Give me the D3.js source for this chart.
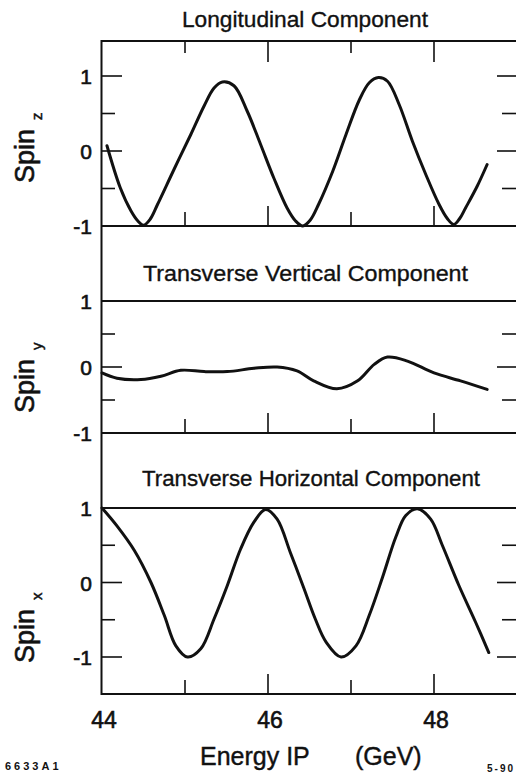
<!DOCTYPE html>
<html>
<head>
<meta charset="utf-8">
<script src="https://cdn.jsdelivr.net/npm/d3@7"></script>
<style>
  html, body { margin: 0; padding: 0; background: #fff; }
  svg { display: block; }
  text { font-family: "Liberation Sans", Arial, Helvetica, sans-serif; fill: #111; }
</style>
</head>
<body>
<svg id="chart" width="516" height="780"></svg>
<script>
// ---- Data ----
const energyTicks = [44, 45, 46, 47, 48];
const energyLabels = [44, 46, 48];
const spinTicks = [-1, -0.5, 0, 0.5, 1];
const spinLabels = [-1, 0, 1];

const titles = ["Longitudinal Component", "Transverse Vertical Component", "Transverse Horizontal Component"];
const axisNames = ["z", "y", "x"];

// Longitudinal component (Spin_z)
const energyZ = [44.06, 44.22, 44.35, 44.43, 44.50, 44.58, 44.67, 44.87, 45.07, 45.23, 45.35, 45.45, 45.59, 45.75, 45.91, 46.07, 46.23, 46.33, 46.42, 46.51, 46.61, 46.78, 46.94, 47.10, 47.22, 47.33, 47.44, 47.58, 47.74, 47.90, 48.06, 48.16, 48.24, 48.31, 48.38, 48.52, 48.64];
const spinZ   = [0.07, -0.49, -0.80, -0.93, -0.99, -0.91, -0.71, -0.24, 0.22, 0.60, 0.84, 0.92, 0.87, 0.53, 0.09, -0.36, -0.76, -0.93, -1.00, -0.92, -0.71, -0.27, 0.22, 0.68, 0.91, 0.98, 0.93, 0.62, 0.13, -0.31, -0.71, -0.90, -0.98, -0.90, -0.76, -0.47, -0.18];

// Transverse vertical component (Spin_y)
const energyY = [44.0, 44.18, 44.47, 44.71, 44.95, 45.23, 45.51, 45.83, 46.11, 46.35, 46.55, 46.83, 47.08, 47.28, 47.44, 47.68, 48.0, 48.32, 48.64];
const spinY   = [-0.09, -0.17, -0.19, -0.14, -0.05, -0.07, -0.07, -0.02, 0.0, -0.06, -0.21, -0.33, -0.21, 0.04, 0.15, 0.09, -0.09, -0.21, -0.34];

// Transverse horizontal component (Spin_x)
const energyX = [44.0, 44.18, 44.39, 44.59, 44.75, 44.89, 45.03, 45.19, 45.35, 45.51, 45.67, 45.83, 45.97, 46.11, 46.27, 46.43, 46.57, 46.70, 46.88, 47.06, 47.22, 47.38, 47.54, 47.66, 47.80, 47.96, 48.10, 48.30, 48.50, 48.66];
const spinX   = [1.0, 0.76, 0.43, 0.0, -0.44, -0.85, -1.0, -0.89, -0.49, -0.04, 0.45, 0.81, 0.98, 0.85, 0.40, -0.07, -0.49, -0.80, -1.0, -0.85, -0.44, 0.07, 0.61, 0.90, 0.99, 0.85, 0.50, -0.04, -0.53, -0.94];

// ---- Layout ----
const svg = d3.select("#chart");
const xLeft = 102, xRight = 517;
const x = d3.scaleLinear().domain([44, 49]).range([xLeft, xRight]);
const stroke = "#111";

const panels = [
  { title: titles[0], sub: axisNames[0], e: energyZ, s: spinZ, y: d3.scaleLinear().domain([-1, 1]).range([226, 76]),
    top: 41, bottom: 226, titleX: 182, titleW: 246, titleY: 27, topTicks: true, labelY: 183 },
  { title: titles[1], sub: axisNames[1], e: energyY, s: spinY, y: d3.scaleLinear().domain([-1, 1]).range([433, 301]),
    top: 301, bottom: 433, titleX: 143, titleW: 325, titleY: 281, topTicks: false, labelY: 413 },
  { title: titles[2], sub: axisNames[2], e: energyX, s: spinX, y: d3.scaleLinear().domain([-1, 1]).range([657, 508]),
    top: 508, bottom: 694, titleX: 142, titleW: 338, titleY: 486, topTicks: false, labelY: 663 }
];

// left spine
svg.append("line").attr("x1", xLeft - 0.5).attr("x2", xLeft - 0.5).attr("y1", 40).attr("y2", 695)
  .attr("stroke", stroke).attr("stroke-width", 2);

const line = d3.line().curve(d3.curveCatmullRom.alpha(0.5));

panels.forEach((p) => {
  const g = svg.append("g");
  // horizontal frame lines
  [p.top, p.bottom].forEach(yy => {
    g.append("line").attr("x1", xLeft - 1).attr("x2", 516).attr("y1", yy).attr("y2", yy)
      .attr("stroke", stroke).attr("stroke-width", 1.8);
  });
  // x ticks from bottom line (upward)
  energyTicks.filter(v => v > 44).forEach(v => {
    const len = (v % 2 === 0) ? 20 : 14;
    g.append("line").attr("x1", x(v)).attr("x2", x(v)).attr("y1", p.bottom).attr("y2", p.bottom - len)
      .attr("stroke", stroke).attr("stroke-width", 1.6);
    if (p.topTicks) {
      const len2 = (v % 2 === 0) ? 21 : 12;
      g.append("line").attr("x1", x(v)).attr("x2", x(v)).attr("y1", p.top).attr("y2", p.top + len2)
        .attr("stroke", stroke).attr("stroke-width", 1.6);
    }
  });
  // y ticks (left inside, right inside)
  spinTicks.forEach(v => {
    const yy = p.y(v);
    if (Math.abs(yy - p.top) < 2 || Math.abs(yy - p.bottom) < 2) return;
    const major = Number.isInteger(v);
    g.append("line").attr("x1", xLeft - 1).attr("x2", xLeft + (major ? 20 : 13)).attr("y1", yy).attr("y2", yy)
      .attr("stroke", stroke).attr("stroke-width", 1.6);
    g.append("line").attr("x1", 516).attr("x2", 516 - (major ? 19 : 14)).attr("y1", yy).attr("y2", yy)
      .attr("stroke", stroke).attr("stroke-width", 1.6);
  });
  // y tick labels
  spinLabels.forEach(v => {
    g.append("text").attr("x", 92).attr("y", p.y(v) + 8).attr("text-anchor", "end")
      .attr("font-size", 21).attr("stroke", stroke).attr("stroke-width", 0.6)
      .text(v < 0 ? "-" + Math.abs(v) : String(v));
  });
  // title
  g.append("text").attr("x", p.titleX).attr("y", p.titleY).attr("font-size", 22)
    .attr("stroke", stroke).attr("stroke-width", 0.35)
    .attr("textLength", p.titleW).attr("lengthAdjust", "spacingAndGlyphs").text(p.title);
  // y axis label
  const lab = g.append("text").attr("transform", `translate(34,${p.labelY}) rotate(-90)`)
    .attr("font-size", 27).attr("stroke", stroke).attr("stroke-width", 0.6);
  lab.append("tspan").text("Spin");
  lab.append("tspan").attr("dx", 9).attr("dy", 8).attr("font-size", 15).attr("stroke-width", 0.5).text(p.sub);
  // curve
  const pts = p.e.map((e, i) => [x(e), p.y(p.s[i])]);
  g.append("path").attr("d", line(pts)).attr("fill", "none").attr("stroke", stroke)
    .attr("stroke-width", 3).attr("stroke-linejoin", "round").attr("stroke-linecap", "round");
});

// x axis labels
energyLabels.forEach(v => {
  svg.append("text").attr("x", x(v) + 2).attr("y", 728).attr("text-anchor", "middle")
    .attr("font-size", 23).attr("stroke", stroke).attr("stroke-width", 0.6).text(v);
});
svg.append("text").attr("x", 200).attr("y", 765).attr("font-size", 25)
  .attr("stroke", stroke).attr("stroke-width", 0.4).text("Energy IP");
svg.append("text").attr("x", 355).attr("y", 765).attr("font-size", 25)
  .attr("stroke", stroke).attr("stroke-width", 0.4).text("(GeV)");
svg.append("text").attr("x", 5).attr("y", 770).attr("font-size", 11).attr("font-weight", "bold")
  .attr("letter-spacing", 3).text("6633A1");
svg.append("text").attr("x", 487).attr("y", 772).attr("font-size", 10).attr("font-weight", "bold")
  .attr("letter-spacing", 2).text("5-90");
</script>
</body>
</html>
